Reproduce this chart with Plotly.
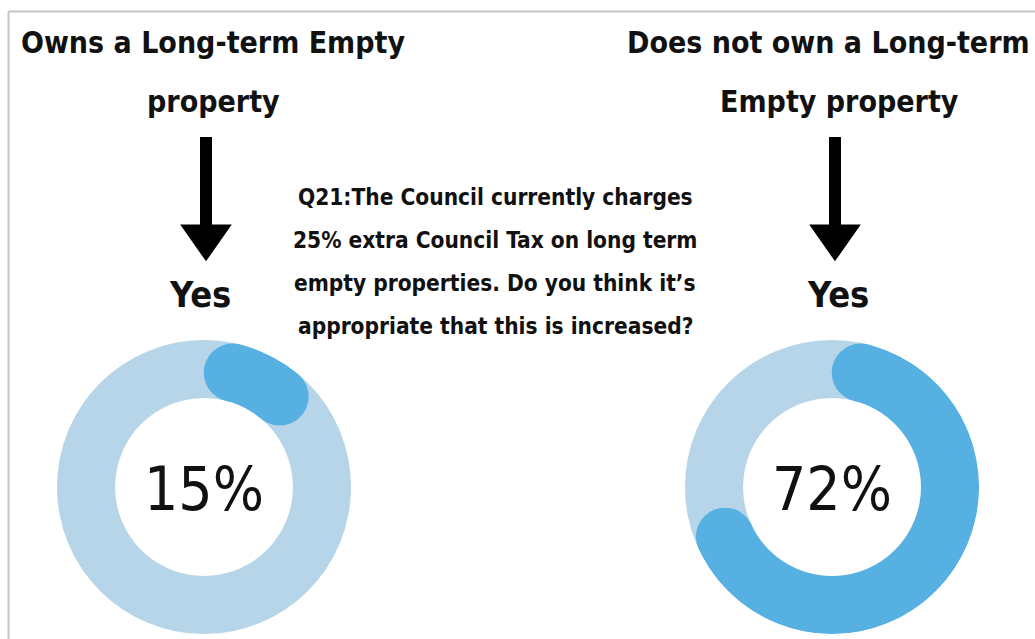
import math
import plotly.graph_objects as go

# ---- data ----
groups = ["Owns a Long-term Empty property", "Does not own a Long-term Empty property"]
title_lines = [["Owns a Long-term Empty", "property"], ["Does not own a Long-term", "Empty property"]]
answer = ["Yes", "Yes"]
yes_pct = [15, 72]
question_lines = [
    "Q21:The Council currently charges",
    "25% extra Council Tax on long term",
    "empty properties. Do you think it\u2019s",
    "appropriate that this is increased?",
]

# ---- style ----
W, H = 1035, 639
LIGHT = "#b6d5e8"
DARK = "#56b0e2"
FONT = "DejaVu Sans Condensed, sans-serif"

centers = [(204, 487), (832, 487)]  # px
R_OUT = 147
HOLE = 0.605
thick = R_OUT * (1 - HOLE)
mid_r = R_OUT * (1 + HOLE) / 2
cap_deg = math.degrees((thick / 2) / mid_r)


def px(x):
    return x / W


def py(y):
    return 1 - y / H


fig = go.Figure()
annotations = []
shapes = []

for i, (cx, cy) in enumerate(centers):
    pname = "polar" if i == 0 else f"polar{i+1}"
    total = yes_pct[i] * 3.6
    core = max(total - 2 * cap_deg, 0.1)
    fig.add_trace(go.Barpolar(
        r=[1], theta=[total / 2], width=[core], base=[0],
        marker=dict(color=DARK, line=dict(width=0)),
        subplot=pname, showlegend=False, hoverinfo="skip",
    ))
    fig.add_trace(go.Scatterpolar(
        r=[0.5, 0.5], theta=[cap_deg, total - cap_deg], mode="markers",
        marker=dict(color=DARK, size=thick, line=dict(width=0)),
        subplot=pname, showlegend=False, hoverinfo="skip",
    ))
    fig.update_layout(**{pname: dict(
        domain=dict(x=[px(cx - R_OUT), px(cx + R_OUT)], y=[py(cy + R_OUT), py(cy - R_OUT)]),
        hole=HOLE,
        bgcolor=LIGHT,
        radialaxis=dict(visible=False, range=[0, 1]),
        angularaxis=dict(visible=False, rotation=90, direction="clockwise"),
    )})
    # percentage label
    annotations.append(dict(
        x=px(cx), y=py(cy + 2), xref="paper", yref="paper", text=f"{yes_pct[i]}%",
        showarrow=False, font=dict(family=FONT, size=60, color="#111111"),
        xanchor="center", yanchor="middle",
    ))

# titles
title_pos = [[(213, "center"), (213, "center")], [(1032, "right"), (839, "center")]]
for i in range(2):
    for j, line in enumerate(title_lines[i]):
        tx, anchor = title_pos[i][j]
        annotations.append(dict(
            x=px(tx), y=py(42 + j * 60), xref="paper", yref="paper", text=f"<b>{line}</b>",
            showarrow=False, font=dict(family=FONT, size=30, color="#111111"),
            xanchor=anchor, yanchor="middle",
        ))

# Yes labels
yes_x = [200, 838]
for i in range(2):
    annotations.append(dict(
        x=px(yes_x[i]), y=py(294), xref="paper", yref="paper", text=f"<b>{answer[i]}</b>",
        showarrow=False, font=dict(family=FONT, size=36, color="#111111"),
        xanchor="center", yanchor="middle",
    ))

# question
for j, line in enumerate(question_lines):
    annotations.append(dict(
        x=px(495), y=py(197 + j * 43), xref="paper", yref="paper", text=f"<b>{line}</b>",
        showarrow=False, font=dict(family=FONT, size=22.5, color="#111111"),
        xanchor="center", yanchor="middle",
    ))

# arrows (decorative)
arrow_x = [206, 835]
for ax in arrow_x:
    shapes.append(dict(type="rect", xref="paper", yref="paper",
                       x0=px(ax - 6), x1=px(ax + 6), y0=py(230), y1=py(137),
                       fillcolor="black", line=dict(width=0)))
    shapes.append(dict(type="path", xref="paper", yref="paper",
                       path=f"M {px(ax-21)} {py(227)} L {px(ax+21)} {py(227)} L {px(ax)} {py(257)} Z",
                       fillcolor="black", line=dict(color="black", width=5)))

# frame
shapes.append(dict(type="line", xref="paper", yref="paper", x0=px(8.5), x1=1.02, y0=py(11.5), y1=py(11.5),
                   line=dict(color="#c4c4c4", width=2)))
shapes.append(dict(type="line", xref="paper", yref="paper", x0=px(8.5), x1=px(8.5), y0=py(11.5), y1=-0.02,
                   line=dict(color="#c4c4c4", width=2)))

fig.update_layout(
    width=W, height=H, margin=dict(l=0, r=0, t=0, b=0),
    paper_bgcolor="white", plot_bgcolor="white",
    annotations=annotations, shapes=shapes, showlegend=False,
)

fig.write_html(
    "out.html",
    config={"displayModeBar": False, "staticPlot": True},
    post_script="document.body.style.margin='0';document.body.style.overflow='hidden';",
)
